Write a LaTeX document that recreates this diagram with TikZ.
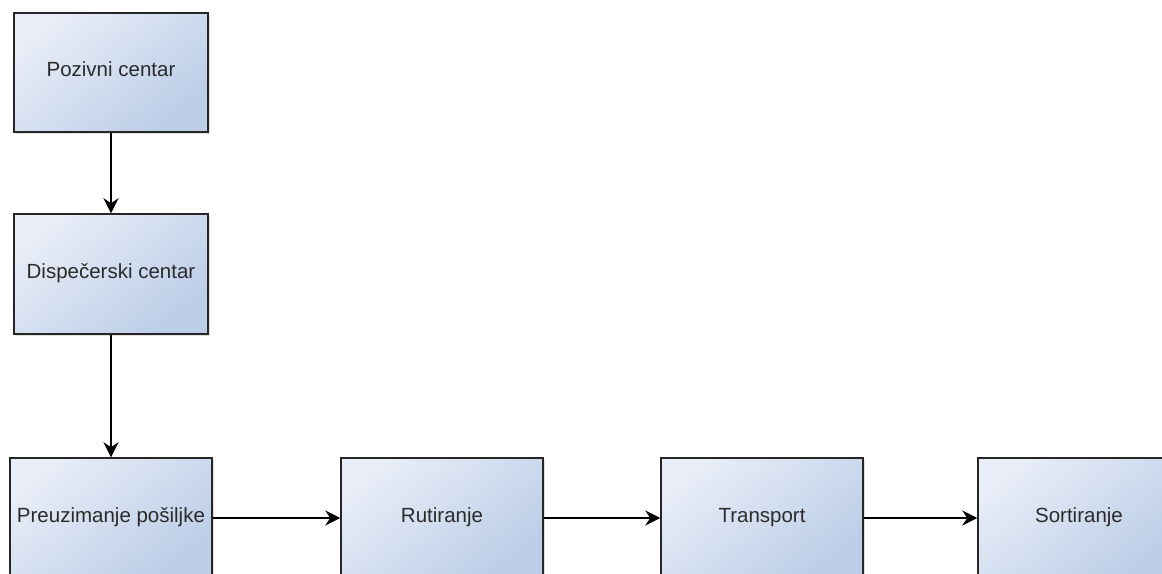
\documentclass[tikz,border=0pt]{standalone}
\usepackage{fontspec}
\setmainfont{Liberation Sans}
\usetikzlibrary{arrows.meta,shadows}

\definecolor{boxlight}{HTML}{E8EDF7}
\definecolor{boxdark}{HTML}{BBCDE7}
\definecolor{boxtext}{HTML}{2B2B2B}

\begin{document}
\begin{tikzpicture}[x=1pt,y=-1pt,
    block/.style={draw=black!85, line width=1.5pt,
        left color=boxlight, right color=boxdark, shading angle=40,
        text=boxtext, font=\fontsize{20.5}{24}\selectfont, inner sep=0pt,
        text height=2.1ex, text depth=0.5ex,
        drop shadow={shadow xshift=2pt, shadow yshift=-2pt, opacity=0.2, fill=black!60}},
    flow/.style={-{Stealth[length=15pt,width=15pt,inset=5pt]}, line width=1.3pt}]
\useasboundingbox (0,0) rectangle (1162,573);

% upper column
\node[block, minimum width=194pt, minimum height=119pt] (poziv) at (111,72.5) {Pozivni centar};
\node[block, minimum width=194pt, minimum height=120pt] (dispecer) at (111,274) {Dispečerski centar};

% bottom row
\node[block, minimum width=202pt, minimum height=120pt] (preuzimanje) at (111,518) {Preuzimanje pošiljke};
\node[block, minimum width=202pt, minimum height=120pt] (rutiranje) at (442,518) {Rutiranje};
\node[block, minimum width=202pt, minimum height=120pt] (transport) at (762,518) {Transport};
\node[block, minimum width=202pt, minimum height=120pt] (sortiranje) at (1079,518) {Sortiranje};

% connections
\draw[flow] (poziv) -- (dispecer);
\draw[flow] (dispecer) -- (preuzimanje);
\draw[flow] (preuzimanje) -- (rutiranje);
\draw[flow] (rutiranje) -- (transport);
\draw[flow] (transport) -- (sortiranje);

\end{tikzpicture}
\end{document}
